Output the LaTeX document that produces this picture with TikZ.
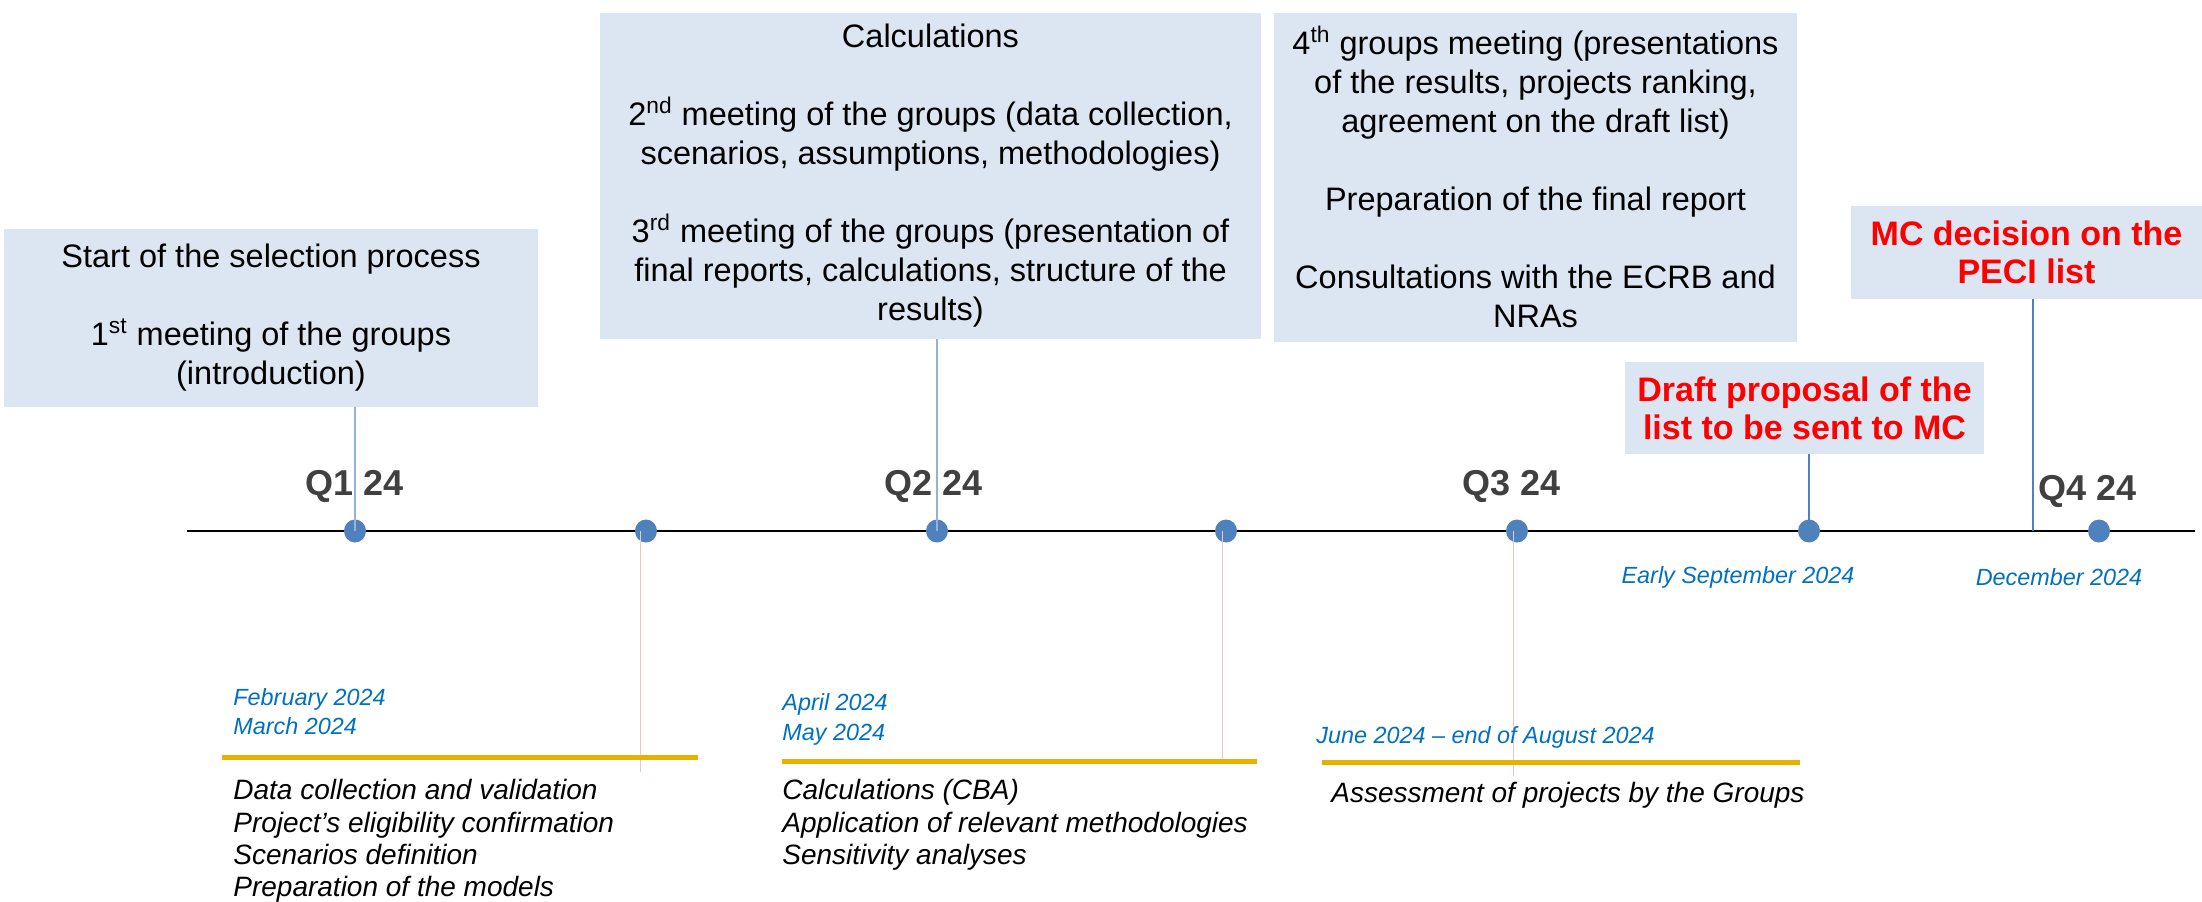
\documentclass[tikz,border=0pt]{standalone}
\usepackage{fontspec}
\setmainfont{Liberation Sans}
\usetikzlibrary{shapes.geometric}
\definecolor{boxfill}{HTML}{DCE6F2}
\definecolor{dotblue}{HTML}{4F81BD}
\definecolor{lightcon}{HTML}{95B3D7}
\definecolor{gold}{HTML}{E8B100}
\definecolor{dateblue}{HTML}{0070C0}
\definecolor{pinkline}{HTML}{E8C8C8}
\definecolor{qgray}{HTML}{404040}
\begin{document}
\begin{tikzpicture}[x=0.5pt,y=-0.5pt,
  box/.style={fill=boxfill, draw=none, align=center, inner sep=0pt,
    font=\fontsize{16.25}{19.5}\selectfont},
  redbox/.style={fill=boxfill, draw=none, align=center, inner sep=0pt,
    text=red, font=\bfseries\fontsize{17}{19}\selectfont},
  dotnode/.style={ellipse, fill=dotblue, draw=none, minimum width=11pt, minimum height=11.5pt, inner sep=0pt},
  qlab/.style={text=qgray, font=\bfseries\fontsize{18}{20}\selectfont, inner sep=0pt},
  datelab/.style={text=dateblue, font=\itshape\fontsize{11.7}{14.6}\selectfont, inner sep=0pt, align=left},
  listlab/.style={text=black, font=\itshape\fontsize{14}{16.2}\selectfont, inner sep=0pt, align=left},
  conlight/.style={draw=lightcon, line width=0.6pt},
  condark/.style={draw=dotblue, line width=0.6pt},
  pinkcon/.style={draw=pinkline, line width=0.5pt},
  goldbar/.style={draw=gold, line width=2.5pt},
  timeline/.style={draw=black, line width=1.1pt}]
\useasboundingbox (0,0) rectangle (2202,901);

% timeline
\coordinate (tlstart) at (187,531);
\coordinate (tlend) at (2195,531);
\draw[timeline] (tlstart) -- (tlend);

% boxes
\node[box, minimum width=267pt, minimum height=89pt] (b1) at (271,318)
  {Start of the selection process\\[19.5pt]1\textsuperscript{st} meeting of the groups\\(introduction)};
\node[box, minimum width=330.5pt, minimum height=163pt] (b2) at (930.5,176)
  {Calculations\\[19.5pt]2\textsuperscript{nd} meeting of the groups (data collection,\\scenarios, assumptions, methodologies)\\[19.5pt]3\textsuperscript{rd} meeting of the groups (presentation of\\final reports, calculations, structure of the\\results)};
\node[box, minimum width=261.5pt, minimum height=164.5pt] (b3) at (1535.5,177)
  {4\textsuperscript{th} groups meeting (presentations\\of the results, projects ranking,\\agreement on the draft list)\\[19.5pt]Preparation of the final report\\[19.5pt]Consultations with the ECRB and\\NRAs};
\node[redbox, minimum width=179.5pt, minimum height=46pt] (b4) at (1804.5,408)
  {Draft proposal of the\\list to be sent to MC};
\node[redbox, minimum width=175.5pt, minimum height=46.5pt] (b5) at (2026.5,252.5)
  {MC decision on the\\PECI list};

% quarter labels
\node[qlab] (q1) at (355,486) {Q1 24};
\node[qlab] (q2) at (934,486) {Q2 24};
\node[qlab] (q3) at (1512,486) {Q3 24};
\node[qlab] (q4) at (2088,491) {Q4 24};

% dots
\node[dotnode] (d1) at (355,531) {};
\node[dotnode] (d2) at (646,531) {};
\node[dotnode] (d3) at (937,531) {};
\node[dotnode] (d4) at (1226,531) {};
\node[dotnode] (d5) at (1517,531) {};
\node[dotnode] (d6) at (1809,531) {};
\node[dotnode] (d7) at (2099,531) {};

% connectors up to boxes
\draw[conlight] (b1.south -| d1) -- (d1.center);
\draw[conlight] (b2.south -| d3) -- (d3.center);
\draw[condark] (b4.south -| d6) -- (d6.center);
\coordinate (mcend) at (2033,531);
\draw[condark] (b5.south -| mcend) -- (mcend);

% pink connectors down
\coordinate (p2) at (640,772);
\coordinate (p4) at (1222,762);
\coordinate (p5) at (1513,776);
\draw[pinkcon] (p2 |- d2) -- (p2);
\draw[pinkcon] (p4 |- d4) -- (p4);
\draw[pinkcon] (p5 |- d5) -- (p5);

% gold bars
\coordinate (g1a) at (222,757); \coordinate (g1b) at (698,757);
\coordinate (g2a) at (782,761); \coordinate (g2b) at (1257,761);
\coordinate (g3a) at (1322,762); \coordinate (g3b) at (1800,762);
\draw[goldbar] (g1a) -- (g1b);
\draw[goldbar] (g2a) -- (g2b);
\draw[goldbar] (g3a) -- (g3b);

% date labels
\node[datelab, anchor=west] (dt1) at (233,711.5) {February 2024\\March 2024};
\node[datelab, anchor=west] (dt2) at (782,719.5) {April 2024\\May 2024};
\node[datelab, anchor=west] (dt3) at (1316,737) {June 2024 -- end of August 2024};
\node[datelab] (dt4) at (1738,577) {Early September 2024};
\node[datelab] (dt5) at (2059,577) {December 2024};

% activity lists
\node[listlab, anchor=north west] (l1) at (233,779)
  {Data collection and validation\\Project’s eligibility confirmation\\Scenarios definition\\Preparation of the models};
\node[listlab, anchor=north west] (l2) at (782,779)
  {Calculations (CBA)\\Application of relevant methodologies\\Sensitivity analyses};
\node[listlab, anchor=north west] (l3) at (1331,782)
  {Assessment of projects by the Groups};
\end{tikzpicture}
\end{document}
